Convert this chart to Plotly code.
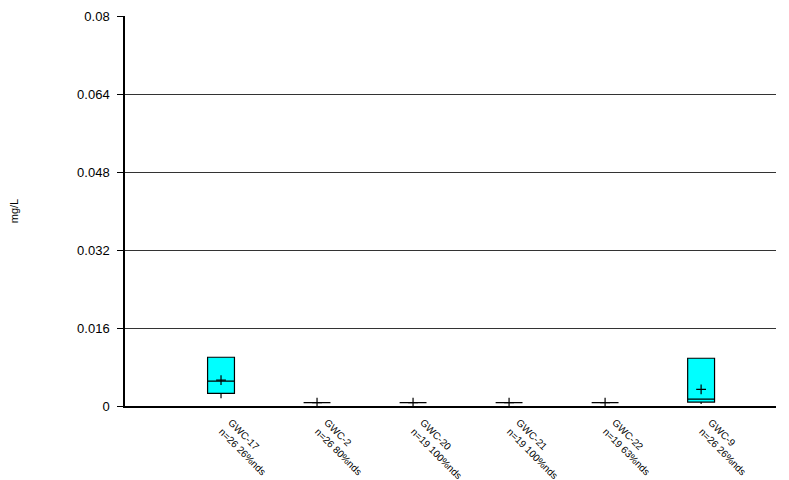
import plotly.graph_objects as go

wells = ["GWC-17", "GWC-2", "GWC-20", "GWC-21", "GWC-22", "GWC-9"]
tick_labels = ["GWC-17<br>n=26 26%nds", "GWC-2<br>n=26 80%nds", "GWC-20<br>n=19 100%nds",
               "GWC-21<br>n=19 100%nds", "GWC-22<br>n=19 63%nds", "GWC-9<br>n=26 26%nds"]
positions = [1, 2, 3, 4, 5, 6]
q1 = [0.0026, 0.0007, 0.0007, 0.0007, 0.0007, 0.0008]
median = [0.0051, 0.0007, 0.0007, 0.0007, 0.0007, 0.0014]
q3 = [0.0100, 0.0007, 0.0007, 0.0007, 0.0007, 0.0098]
lower = [0.0016, 0.0007, 0.0007, 0.0007, 0.0007, 0.0004]
upper = [0.0100, 0.0007, 0.0007, 0.0007, 0.0007, 0.0098]
means = [0.0053, 0.0007, 0.0007, 0.0007, 0.0007, 0.0034]
y_ticks = [0, 0.016, 0.032, 0.048, 0.064, 0.08]
y_tick_text = ["0", "0.016", "0.032", "0.048", "0.064", "0.08"]

fig = go.Figure()
fig.add_trace(go.Box(
    x=positions, q1=q1, median=median, q3=q3, lowerfence=lower, upperfence=upper,
    fillcolor="#00FFFF", line=dict(color="black", width=1.2), width=0.28,
    whiskerwidth=0, boxpoints=False, showlegend=False, hoverinfo="skip",
))
fig.add_trace(go.Scatter(
    x=positions, y=means, mode="markers",
    marker=dict(symbol="cross-thin", size=7, line=dict(color="black", width=1.2)),
    showlegend=False, hoverinfo="skip",
))

fig.update_layout(
    width=781, height=472,
    margin=dict(l=117, r=13, t=8, b=74),
    paper_bgcolor="white", plot_bgcolor="white",
    font=dict(family="Arial, Liberation Sans, sans-serif", color="black", size=11),
)
fig.update_xaxes(
    range=[0, 6.78], tickmode="array", tickvals=positions, ticktext=tick_labels,
    tickangle=45, tickfont=dict(size=10, color="black"), showgrid=False, zeroline=False,
    showline=True, linecolor="black", linewidth=1.5, ticks="", automargin=False,
    ticklabelstandoff=5, ticklabelshift=10,
)
fig.update_yaxes(
    range=[0, 0.08], tickmode="array", tickvals=y_ticks, ticktext=y_tick_text,
    tickfont=dict(size=13, color="black"), ticklabelstandoff=5,
    showgrid=True, gridcolor="#333333", gridwidth=1, zeroline=False,
    showline=True, linecolor="black", linewidth=1.5, ticks="outside", ticklen=6,
    tickcolor="black", automargin=False,
    title=dict(text="mg/L", font=dict(size=11, color="black"), standoff=92),
)
fig.write_html("out.html")
